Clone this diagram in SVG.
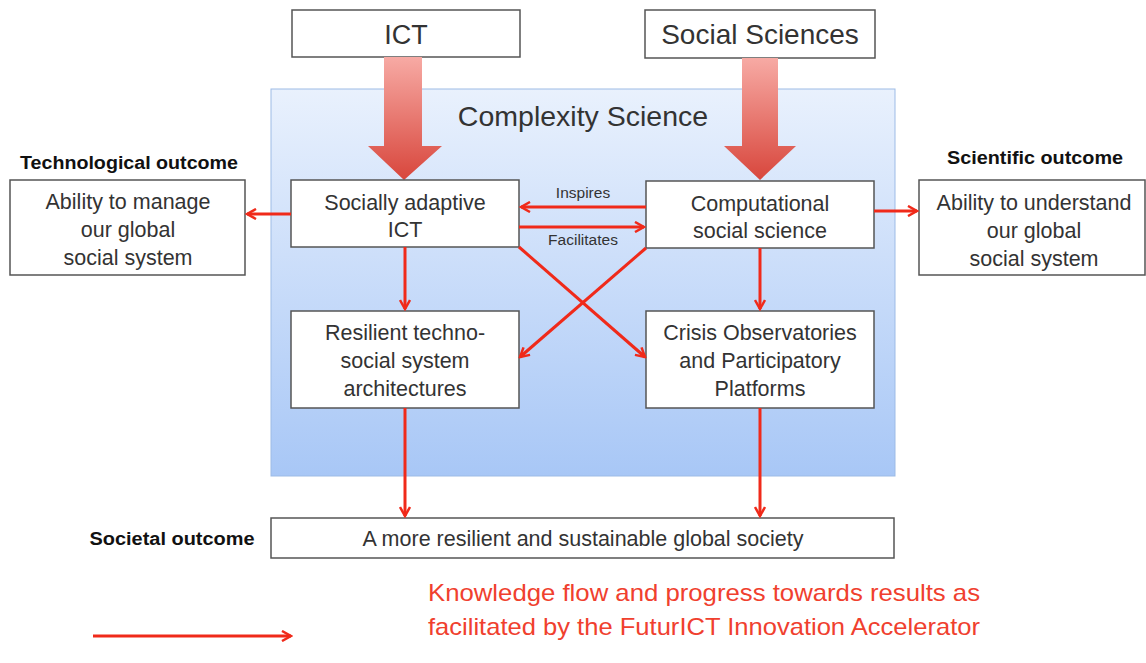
<svg xmlns="http://www.w3.org/2000/svg" width="1146" height="663" viewBox="0 0 1146 663">
<defs>
<linearGradient id="panel" x1="0" y1="0" x2="0" y2="1">
<stop offset="0" stop-color="#e9f1fd"/>
<stop offset="1" stop-color="#a8c7f6"/>
</linearGradient>
<linearGradient id="big" x1="0" y1="0" x2="0" y2="1">
<stop offset="0" stop-color="#f7aaa4"/>
<stop offset="1" stop-color="#d8463c"/>
</linearGradient>
<marker id="ah" viewBox="0 0 12 12" refX="10" refY="6" markerWidth="12" markerHeight="12" markerUnits="userSpaceOnUse" orient="auto">
<path d="M1,1 L10,6 L1,11" fill="none" stroke="#f02a1a" stroke-width="2.5"/>
</marker>
<style>
.box{fill:#fff;stroke:#555;stroke-width:1.5}
.t{font-family:"Liberation Sans",Arial,sans-serif;fill:#333;text-anchor:middle}
.m{font-size:21.5px}
.b{font-family:"Liberation Sans",Arial,sans-serif;font-weight:bold;fill:#111;text-anchor:middle;font-size:18px}
.c{fill:none;stroke:#f02a1a;stroke-width:3;marker-end:url(#ah)}
.lg{font-family:"Liberation Sans",Arial,sans-serif;font-size:24px;fill:#f0402e;text-anchor:middle}
</style>
</defs>
<rect width="1146" height="663" fill="#fff"/>
<g id="panel-complexity">
<rect x="271" y="89" width="624" height="387" fill="url(#panel)" stroke="#9dbbe6" stroke-width="1"/>
<text class="t" x="583" y="126" font-size="28.5">Complexity Science</text>
</g>
<g id="ict">
<rect class="box" x="292" y="10" width="228" height="47"/>
<text class="t" x="406" y="44" font-size="27">ICT</text>
</g>
<g id="social-sciences">
<rect class="box" x="645" y="10" width="230" height="48"/>
<text class="t" x="760" y="44" font-size="28">Social Sciences</text>
</g>
<g id="big-arrows">
<path d="M384,57 L422,57 L422,146 L442,146 L404,180 L368,146 L384,146 Z" fill="url(#big)"/>
<path d="M742,58 L778,58 L778,146 L796,146 L760,180 L724,146 L742,146 Z" fill="url(#big)"/>
</g>
<g id="socially-adaptive-ict">
<rect class="box" x="291" y="180" width="228" height="67"/>
<text class="t m" x="405" y="210">Socially adaptive</text>
<text class="t m" x="405" y="237">ICT</text>
</g>
<g id="computational-social-science">
<rect class="box" x="646" y="181" width="228" height="67"/>
<text class="t m" x="760" y="211">Computational</text>
<text class="t m" x="760" y="238">social science</text>
</g>
<g id="resilient">
<rect class="box" x="291" y="311" width="228" height="97"/>
<text class="t m" x="405" y="340">Resilient techno-</text>
<text class="t m" x="405" y="368">social system</text>
<text class="t m" x="405" y="396">architectures</text>
</g>
<g id="crisis">
<rect class="box" x="646" y="311" width="228" height="97"/>
<text class="t m" x="760" y="340">Crisis Observatories</text>
<text class="t m" x="760" y="368">and Participatory</text>
<text class="t m" x="760" y="396">Platforms</text>
</g>
<g id="technological-outcome">
<text class="b" x="129" y="169" textLength="218" lengthAdjust="spacingAndGlyphs">Technological outcome</text>
<rect class="box" x="10" y="180" width="235" height="95"/>
<text class="t m" x="128" y="209">Ability to manage</text>
<text class="t m" x="128" y="237">our global</text>
<text class="t m" x="128" y="265">social system</text>
</g>
<g id="scientific-outcome">
<text class="b" x="1035" y="164" textLength="176" lengthAdjust="spacingAndGlyphs">Scientific outcome</text>
<rect class="box" x="919" y="180" width="226" height="95"/>
<text class="t m" x="1034" y="210">Ability to understand</text>
<text class="t m" x="1034" y="238">our global</text>
<text class="t m" x="1034" y="266">social system</text>
</g>
<g id="societal-outcome">
<text class="b" x="172" y="545" textLength="165" lengthAdjust="spacingAndGlyphs">Societal outcome</text>
<rect class="box" x="271" y="518" width="623" height="40"/>
<text class="t m" x="583" y="546">A more resilient and sustainable global society</text>
</g>
<g id="connectors">
<line class="c" x1="291" y1="214" x2="247" y2="214"/>
<line class="c" x1="874" y1="211" x2="917" y2="211"/>
<line class="c" x1="646" y1="207" x2="521" y2="207"/>
<line class="c" x1="519" y1="227" x2="644" y2="227"/>
<line class="c" x1="405" y1="247" x2="405" y2="309"/>
<line class="c" x1="760" y1="248" x2="760" y2="309"/>
<line class="c" x1="519" y1="247" x2="645" y2="357"/>
<line class="c" x1="646" y1="248" x2="520" y2="357"/>
<line class="c" x1="405" y1="408" x2="405" y2="516"/>
<line class="c" x1="760" y1="408" x2="760" y2="516"/>
<line class="c" x1="93" y1="636" x2="291" y2="636"/>
</g>
<g id="labels">
<text class="t" x="583" y="198" font-size="15.5">Inspires</text>
<text class="t" x="583" y="245" font-size="15.5">Facilitates</text>
</g>
<g id="legend">
<text class="lg" x="704" y="601" textLength="552" lengthAdjust="spacingAndGlyphs">Knowledge flow and progress towards results as</text>
<text class="lg" x="704" y="635" textLength="552" lengthAdjust="spacingAndGlyphs">facilitated by the FuturICT Innovation Accelerator</text>
</g>
</svg>
